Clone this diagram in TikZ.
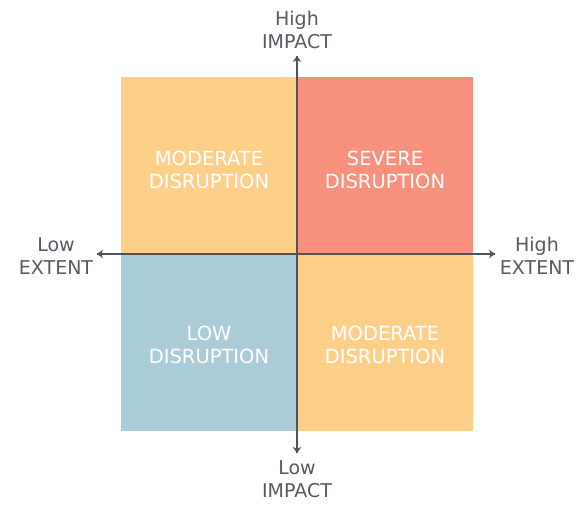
\documentclass[tikz,border=0pt]{standalone}
\usepackage{fontspec}
\setmainfont{DejaVu Sans}
\usetikzlibrary{arrows.meta}

\definecolor{modorange}{HTML}{FDCF89}
\definecolor{sevred}{HTML}{F7917E}
\definecolor{lowblue}{HTML}{AACBD8}
\definecolor{axisgray}{HTML}{4F545A}
\definecolor{labelgray}{HTML}{555A60}

\begin{document}
\begin{tikzpicture}[x=1pt,y=-1pt]
        \useasboundingbox (0,0) rectangle (582,506);

        \begin{scope}[every node/.style={rectangle, inner sep=0pt, minimum width=176pt, minimum height=177pt}]
          \node[fill=modorange] (tl)  at (209,165.5)  {};
          \node[fill=sevred]    (tr)  at (385,165.5)  {};
          \node[fill=lowblue]   (bl)  at (209,342)    {};
          \node[fill=modorange] (br)  at (385,342)    {};
        \end{scope}

        \begin{scope}[every node/.style={text=white, align=center, font=\fontsize{19.5}{23}\selectfont}]
          \node at ([yshift=-4pt]tl.center) {MODERATE\\DISRUPTION};
          \node at ([yshift=-4pt]tr.center) {SEVERE\\DISRUPTION};
          \node at ([yshift=-3pt]bl.center) {LOW\\DISRUPTION};
          \node at ([yshift=-3pt]br.center) {MODERATE\\DISRUPTION};
        \end{scope}

        \coordinate (impacthi) at (297,56);
        \coordinate (impactlo) at (297,453);
        \coordinate (extentlo) at (97,254);
        \coordinate (extenthi) at (495,254);

        \begin{scope}[every path/.style={draw=axisgray, line width=2.2pt, -{Stealth[length=6pt,width=8.5pt,inset=2pt]}}]
          \path (impactlo) -- (impacthi);
          \path (impacthi) -- (impactlo);
          \path (extenthi) -- (extentlo);
          \path (extentlo) -- (extenthi);
        \end{scope}

        \begin{scope}[every node/.style={text=labelgray, align=center, font=\fontsize{19}{23}\selectfont}]
          \node (highimpact) at (297,29.5)  {High\\IMPACT};
          \node (lowimpact)  at (297,479)   {Low\\IMPACT};
          \node (lowextent)  at (56,256)    {Low\\EXTENT};
          \node (highextent) at (537,256)   {High\\EXTENT};
        \end{scope}

      \end{tikzpicture}
\end{document}
